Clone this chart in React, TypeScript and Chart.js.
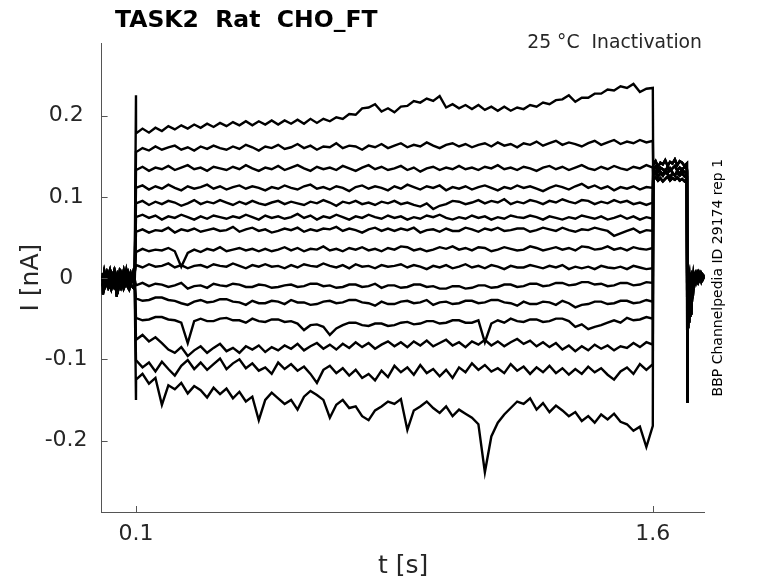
import React, { useEffect, useRef } from "react";
import { Chart, registerables } from "chart.js";

Chart.register(...registerables);

const FONT = "'DejaVu Sans', sans-serif";
const TEXT = "#262626";
const AXIS = "#555555";

// axis ticks
const xTickValues = [0.1, 1.6];
const xTickLabels = ["0.1", "1.6"];
const yTickValues = [-0.2, -0.1, 0, 0.1, 0.2];
const yTickLabels = ["-0.2", "-0.1", "0", "0.1", "0.2"];

// holding level before the step (pA)
const holdTimes = [0, 0.004, 0.008, 0.012, 0.016, 0.02, 0.024, 0.028, 0.032, 0.036, 0.04, 0.044, 0.048, 0.052, 0.056, 0.06, 0.064, 0.068, 0.072, 0.076, 0.08, 0.084, 0.088, 0.092, 0.096];
const holdA = [3, -20, 5, -1, 7, 2, -2, 6, 1, 8, -3, -23, 4, 0, 7, 2, 9, -1, 5, 8, 1, 6, -2, 4, 7];
const holdB = [-4, 1, -6, -2, -8, 0, -5, -1, -7, -3, 2, -6, -9, -2, -4, -8, 1, -5, -3, -7, 0, -6, -2, -5, -1];
const holdC = [-10, -6, -13, -8, -4, -12, -9, -14, -7, -11, -5, -10, -15, -8, -12, -6, -13, -9, -4, -11, -14, -7, -10, -12, -8];
const holdD = [6, -3, 9, 2, -1, 5, 10, 0, 4, -4, 7, 1, -2, 8, 3, -3, 6, 0, 10, 2, -5, 5, 1, 8, 3];

// value at the onset transient, one per trace (pA)
const onsetPeaks = [225, 155, 133, 111, 92, 75, 57, 32, 16, -9, -25, -49, -76, -101, -150];

// test pulse 0.1 .. 1.6 s, one value every 18.75 ms (pA)
const trace01 = [178, 184, 179, 185, 181, 187, 183, 188, 184, 189, 185, 190, 186, 191, 187, 192, 188, 193, 188, 193, 189, 194, 189, 194, 190, 195, 190, 196, 191, 196, 193, 198, 196, 202, 201, 209, 210, 214, 205, 209, 204, 211, 212, 218, 216, 221, 218, 224, 210, 214, 209, 213, 208, 213, 207, 211, 206, 211, 206, 210, 208, 213, 211, 216, 214, 219, 220, 225, 217, 222, 222, 227, 227, 232, 231, 236, 234, 239, 229, 233, 234];
const trace02 = [155, 160, 157, 162, 158, 161, 163, 158, 161, 157, 162, 159, 163, 160, 158, 162, 159, 164, 161, 157, 162, 160, 164, 159, 161, 165, 160, 163, 158, 162, 161, 166, 160, 163, 162, 158, 163, 161, 165, 160, 163, 166, 161, 164, 162, 167, 163, 160, 164, 166, 162, 165, 161, 164, 166, 162, 167, 163, 165, 161, 166, 164, 168, 163, 166, 169, 164, 167, 165, 162, 166, 169, 164, 167, 170, 165, 168, 166, 170, 167, 169];
const trace03 = [133, 137, 132, 136, 134, 138, 133, 136, 139, 134, 136, 132, 137, 135, 133, 137, 134, 139, 135, 132, 136, 134, 138, 133, 136, 139, 135, 132, 137, 134, 136, 133, 138, 135, 132, 136, 139, 134, 137, 133, 135, 138, 133, 136, 131, 135, 137, 133, 136, 134, 138, 134, 136, 133, 137, 135, 139, 134, 136, 133, 137, 135, 132, 136, 138, 134, 137, 133, 136, 139, 135, 133, 137, 134, 138, 135, 133, 137, 135, 139, 136];
const trace04 = [111, 114, 109, 113, 110, 115, 111, 108, 113, 110, 112, 115, 110, 113, 109, 112, 114, 110, 113, 111, 108, 112, 110, 114, 111, 109, 113, 115, 110, 112, 109, 113, 111, 107, 112, 114, 110, 113, 111, 108, 113, 110, 115, 112, 109, 113, 111, 114, 108, 112, 110, 113, 109, 112, 114, 111, 108, 112, 110, 114, 111, 113, 110, 107, 111, 114, 112, 109, 113, 116, 111, 114, 110, 113, 108, 112, 110, 113, 109, 112, 111];
const trace05 = [92, 95, 90, 94, 91, 95, 93, 89, 92, 96, 91, 94, 92, 96, 93, 90, 94, 91, 95, 92, 90, 93, 95, 91, 94, 92, 90, 94, 92, 96, 93, 89, 94, 92, 95, 91, 93, 90, 94, 92, 95, 91, 93, 90, 88, 92, 85, 89, 91, 95, 94, 91, 93, 96, 92, 95, 93, 97, 91, 94, 92, 96, 94, 91, 95, 93, 97, 94, 92, 96, 95, 91, 94, 92, 96, 93, 95, 91, 93, 90, 93];
const trace06 = [75, 78, 74, 77, 72, 76, 74, 78, 75, 72, 76, 73, 77, 75, 73, 76, 74, 78, 75, 72, 77, 74, 76, 73, 75, 79, 74, 77, 72, 76, 74, 78, 75, 72, 76, 74, 78, 75, 73, 77, 74, 76, 72, 75, 73, 77, 75, 78, 74, 72, 75, 73, 77, 74, 76, 72, 75, 73, 77, 75, 74, 77, 75, 72, 76, 74, 72, 75, 73, 77, 75, 73, 76, 72, 74, 77, 73, 76, 72, 75, 73];
const trace07 = [57, 60, 56, 59, 58, 62, 56, 60, 58, 61, 57, 59, 61, 58, 59, 63, 57, 60, 62, 58, 60, 56, 58, 61, 59, 62, 57, 60, 58, 61, 60, 63, 58, 61, 59, 56, 60, 62, 58, 61, 58, 61, 59, 62, 56, 59, 60, 57, 61, 58, 58, 62, 60, 57, 61, 59, 62, 58, 59, 61, 61, 57, 59, 62, 60, 58, 62, 59, 57, 60, 59, 62, 60, 58, 52, 55, 58, 61, 56, 59, 58];
const trace08 = [32, 36, 33, 35, 34, 37, 33, 14, 31, 35, 32, 36, 34, 38, 33, 35, 37, 34, 36, 33, 36, 33, 35, 38, 34, 37, 33, 36, 35, 39, 34, 36, 33, 37, 35, 38, 34, 36, 33, 37, 35, 39, 38, 34, 36, 33, 35, 38, 36, 39, 35, 37, 34, 38, 37, 33, 35, 38, 36, 34, 35, 39, 37, 34, 36, 38, 35, 37, 34, 39, 38, 35, 36, 39, 35, 37, 34, 38, 36, 35, 37];
const trace09 = [16, 13, 17, 14, 15, 18, 13, 16, 12, 15, 16, 13, 17, 15, 14, 18, 15, 12, 16, 14, 17, 14, 15, 12, 16, 13, 17, 15, 14, 18, 15, 13, 16, 12, 17, 14, 15, 12, 16, 14, 15, 17, 13, 16, 14, 11, 15, 13, 16, 12, 14, 17, 13, 15, 12, 16, 14, 11, 15, 13, 13, 16, 14, 12, 15, 13, 16, 11, 14, 12, 14, 11, 15, 13, 12, 14, 11, 15, 13, 11, 12];
const trace10 = [-9, -6, -10, -7, -8, -11, -9, -6, -13, -10, -9, -12, -7, -9, -10, -7, -8, -11, -11, -8, -9, -12, -11, -9, -8, -11, -10, -7, -7, -10, -9, -12, -11, -8, -8, -11, -10, -7, -12, -9, -9, -12, -11, -8, -8, -11, -10, -13, -13, -10, -10, -13, -12, -9, -9, -12, -11, -8, -8, -11, -10, -7, -7, -10, -9, -6, -6, -9, -8, -5, -5, -8, -7, -10, -9, -6, -6, -9, -8, -5, -6];
const trace11 = [-25, -28, -27, -24, -24, -27, -28, -31, -33, -29, -27, -30, -29, -26, -26, -29, -30, -33, -28, -31, -31, -28, -29, -32, -27, -30, -30, -33, -32, -29, -28, -31, -30, -27, -27, -30, -31, -34, -29, -32, -32, -29, -28, -31, -30, -27, -33, -30, -29, -32, -31, -28, -28, -31, -30, -27, -27, -30, -31, -34, -29, -32, -32, -29, -30, -33, -28, -31, -36, -33, -32, -29, -29, -32, -31, -28, -28, -31, -30, -27, -29];
const trace12 = [-49, -52, -51, -48, -48, -51, -52, -55, -80, -53, -50, -53, -53, -50, -49, -52, -52, -55, -50, -53, -54, -51, -51, -54, -53, -56, -64, -58, -57, -60, -70, -62, -58, -55, -55, -58, -59, -56, -56, -59, -58, -55, -54, -57, -56, -53, -53, -56, -55, -52, -52, -55, -55, -52, -79, -56, -52, -55, -50, -53, -54, -51, -51, -54, -53, -50, -50, -53, -60, -57, -63, -60, -58, -55, -52, -55, -49, -52, -51, -48, -50];
const trace13 = [-76, -70, -78, -73, -80, -88, -92, -85, -96, -89, -84, -92, -86, -81, -90, -86, -92, -84, -88, -83, -91, -85, -89, -83, -87, -81, -89, -84, -80, -87, -82, -88, -81, -86, -79, -85, -80, -87, -82, -78, -84, -79, -85, -78, -83, -77, -84, -80, -76, -83, -79, -85, -78, -82, -76, -83, -78, -84, -79, -75, -81, -77, -84, -79, -85, -80, -88, -83, -90, -84, -89, -82, -87, -83, -89, -84, -86, -80, -85, -79, -82];
const trace14 = [-101, -110, -104, -115, -103, -112, -120, -108, -101, -112, -104, -113, -106, -99, -112, -105, -100, -111, -105, -114, -110, -118, -104, -112, -106, -114, -109, -118, -129, -113, -108, -117, -111, -120, -113, -123, -118, -126, -114, -122, -108, -116, -110, -119, -107, -117, -112, -121, -113, -123, -110, -116, -105, -113, -107, -115, -111, -117, -106, -114, -109, -118, -110, -116, -108, -117, -111, -119, -112, -118, -109, -116, -111, -119, -125, -115, -110, -118, -106, -113, -106];
const trace15 = [-125, -118, -130, -123, -156, -132, -137, -129, -142, -133, -138, -147, -135, -143, -136, -148, -140, -152, -146, -175, -150, -141, -148, -155, -150, -162, -146, -139, -144, -150, -172, -156, -150, -160, -158, -170, -175, -163, -158, -152, -155, -149, -187, -163, -158, -152, -160, -166, -158, -170, -162, -167, -172, -180, -239, -195, -178, -168, -160, -152, -155, -148, -162, -154, -165, -157, -163, -170, -165, -176, -170, -178, -168, -174, -167, -177, -180, -188, -183, -208, -182];

// tail current after the pulse (pA)
const tailTimes = [1.601, 1.608, 1.615, 1.622, 1.629, 1.636, 1.643, 1.65, 1.657, 1.664, 1.671, 1.678, 1.685, 1.692, 1.699];
const tailA = [139, 144, 137, 142, 140, 145, 138, 143, 141, 146, 139, 144, 142, 138, 141];
const tailB = [133, 137, 131, 136, 134, 130, 137, 132, 135, 138, 132, 136, 133, 137, 134];
const tailC = [127, 130, 125, 129, 126, 131, 128, 124, 129, 127, 130, 126, 129, 125, 128];
const tailD = [121, 124, 120, 123, 119, 122, 125, 120, 123, 121, 124, 120, 122, 119, 122];
const tailE = [134, 129, 136, 131, 127, 133, 129, 135, 130, 126, 132, 128, 134, 130, 131];

// return to holding (pA)
const postTimes = [1.7, 1.7015, 1.703, 1.706, 1.709, 1.712, 1.715, 1.718, 1.721, 1.725, 1.729, 1.733, 1.737, 1.741, 1.745, 1.75];
const postA = [-152, -60, -25, -8, 2, 5, -1, 6, 3, 7, 2, 5, 1, 6, 3, 4];
const postB = [-90, -45, -62, -30, -48, -12, -20, -3, -8, 1, -4, 3, -2, 4, 0, 2];
const postC = [-60, -20, -40, -55, -15, -32, -6, -14, 0, -5, 3, -2, 5, -1, 4, 1];
const postD = [-40, -10, 2, -18, -35, -4, -10, 5, -3, 4, -1, 6, 0, 3, -2, 2];
const postE = [-75, -30, -5, 3, -25, -45, -8, 1, -6, 2, 6, -3, 4, -4, 1, -1];

const stepTraces = [trace01, trace02, trace03, trace04, trace05, trace06, trace07, trace08, trace09, trace10, trace11, trace12, trace13, trace14, trace15];
const holds = [holdA, holdB, holdC, holdD];
const tails = [tailA, tailB, tailC, tailD, tailE];
const posts = [postA, postB, postC, postD, postE];

const stepTimes = trace01.map((_, i) => 0.1 + i * 0.01875);

const nA = (pA: number) => pA / 1000;

const buildTrace = (k: number) => {
  const pts: { x: number; y: number }[] = [];
  holds[k % holds.length].forEach((v, i) => pts.push({ x: holdTimes[i], y: nA(v) }));
  pts.push({ x: 0.0998, y: nA(onsetPeaks[k]) });
  stepTraces[k].forEach((v, i) => pts.push({ x: stepTimes[i], y: nA(v) }));
  tails[k % tails.length].forEach((v, i) => pts.push({ x: tailTimes[i], y: nA(v) }));
  posts[k % posts.length].forEach((v, i) => pts.push({ x: postTimes[i], y: nA(v) }));
  return pts;
};

const decorations = {
  id: "decorations",
  afterDraw(chart: any) {
    const { ctx, chartArea } = chart;
    const xs = chart.scales.x;
    const ys = chart.scales.y;
    ctx.save();
    // inward tick marks
    ctx.strokeStyle = AXIS;
    ctx.lineWidth = 1;
    ctx.beginPath();
    yTickValues.forEach((v) => {
      const py = Math.round(ys.getPixelForValue(v)) + 0.5;
      ctx.moveTo(chartArea.left, py);
      ctx.lineTo(chartArea.left + 6, py);
    });
    xTickValues.forEach((v) => {
      const px = Math.round(xs.getPixelForValue(v)) + 0.5;
      ctx.moveTo(px, chartArea.bottom);
      ctx.lineTo(px, chartArea.bottom - 6);
    });
    ctx.stroke();

    ctx.fillStyle = "#000";
    ctx.font = `bold 23.5px ${FONT}`;
    ctx.textAlign = "left";
    ctx.textBaseline = "alphabetic";
    ctx.fillText("TASK2  Rat  CHO_FT", 115, 26.7);

    ctx.fillStyle = TEXT;
    ctx.font = `18.8px ${FONT}`;
    ctx.textAlign = "right";
    ctx.fillText("25 °C  Inactivation", 702, 47.5);

    ctx.font = `14px ${FONT}`;
    ctx.fillStyle = "#000";
    ctx.translate(721.5, (chartArea.top + chartArea.bottom) / 2);
    ctx.rotate(-Math.PI / 2);
    ctx.textAlign = "center";
    ctx.fillText("BBP Channelpedia ID 29174 rep 1", 0, 0);
    ctx.restore();
  },
};

const App: React.FC = () => {
  const canvasRef = useRef<HTMLCanvasElement>(null);

  useEffect(() => {
    document.body.style.margin = "0";
    if (!canvasRef.current) return;
    const ctx = canvasRef.current.getContext("2d");
    if (!ctx) return;

    const chart = new Chart(ctx, {
      type: "line",
      data: {
        datasets: stepTraces.map((_, k) => ({
          data: buildTrace(k),
          borderColor: "#000",
          borderWidth: 2.4,
          borderJoinStyle: "miter" as const,
          pointRadius: 0,
          tension: 0,
          fill: false,
        })),
      },
      options: {
        animation: false,
        responsive: false,
        events: [],
        layout: { padding: { top: 43.3, right: 73.5, left: 0, bottom: 0 } },
        plugins: {
          legend: { display: false },
          tooltip: { enabled: false },
        },
        scales: {
          x: {
            type: "linear",
            min: 0,
            max: 1.75,
            afterBuildTicks: (scale: any) => {
              scale.ticks = xTickValues.map((value) => ({ value }));
            },
            afterFit: (scale: any) => {
              scale.height = 71;
            },
            ticks: {
              autoSkip: false,
              maxRotation: 0,
              padding: 9,
              color: TEXT,
              font: { family: FONT, size: 22 },
              callback: (_v: any, i: number) => xTickLabels[i],
            },
            grid: { drawOnChartArea: false, drawTicks: false, color: "transparent" },
            border: { display: true, color: AXIS, width: 1 },
            title: {
              display: true,
              text: "t [s]",
              color: TEXT,
              font: { family: FONT, size: 25 },
              padding: { top: 0, bottom: 1.5 },
            },
          },
          y: {
            type: "linear",
            min: -0.288,
            max: 0.289,
            afterBuildTicks: (scale: any) => {
              scale.ticks = yTickValues.map((value) => ({ value }));
            },
            afterFit: (scale: any) => {
              scale.width = 101.6;
            },
            ticks: {
              autoSkip: false,
              crossAlign: "center",
              padding: 14,
              color: TEXT,
              font: { family: FONT, size: 22 },
              callback: (_v: any, i: number) => yTickLabels[i],
            },
            grid: { drawOnChartArea: false, drawTicks: false, color: "transparent" },
            border: { display: true, color: AXIS, width: 1 },
            title: {
              display: true,
              text: "I [nA]",
              color: TEXT,
              font: { family: FONT, size: 25 },
              padding: { top: 16, bottom: 0 },
            },
          },
        },
      },
      plugins: [decorations],
    });

    return () => {
      chart.destroy();
    };
  }, []);

  return (
    <div style={{ width: 778, height: 583 }}>
      <canvas ref={canvasRef} width={778} height={583} />
    </div>
  );
};

export default App;
